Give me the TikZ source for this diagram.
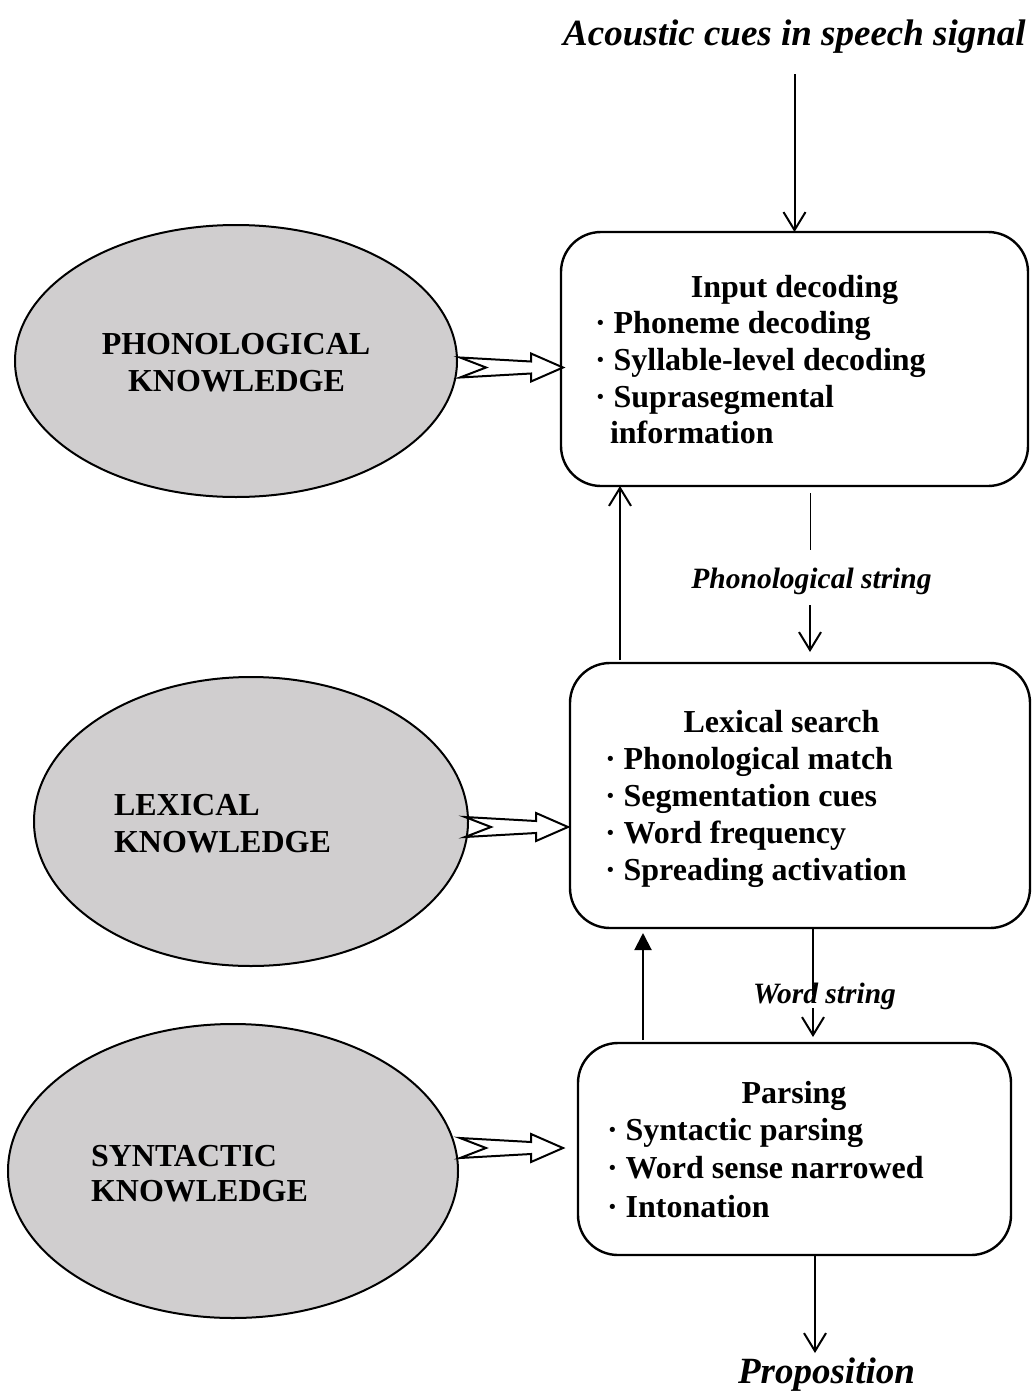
\documentclass[tikz,border=0pt]{standalone}
\usepackage{fontspec}
\setmainfont{Liberation Serif}
\usetikzlibrary{shapes.geometric,arrows.meta,calc}
\definecolor{knowfill}{RGB}{208,206,207}

% hollow "feeds into" arrow with a swallow tail; #1 is the tail point
\newcommand\fatarrow[1]{%
  \draw[feed] #1 ++(0,-10) -- ++(71,4) -- ++(0,-8) -- ++(32,14)
    -- ++(-32,14) -- ++(0,-8) -- ++(-71,4) -- ++(26,-10) -- cycle;}

\begin{document}
\begin{tikzpicture}[x=1pt,y=-1pt,
  every node/.style={inner sep=0pt,outer sep=0pt},
  know/.style={ellipse,draw,line width=2pt,fill=knowfill},
  stage/.style={rectangle,draw,line width=2.4pt,rounded corners=40pt},
  txt/.style={font=\fontsize{32}{37}\selectfont\bfseries},
  lbl/.style={font=\fontsize{29.5}{34}\selectfont\bfseries\itshape},
  big/.style={font=\fontsize{37}{44}\selectfont\bfseries\itshape},
  flow/.style={line width=2pt,-{Straight Barb[length=18pt,width=22pt]}},
  back/.style={line width=2pt,-{Triangle[length=17pt,width=17pt]}},
  thinline/.style={line width=1pt},
  feed/.style={line width=2pt,fill=white,line join=miter}]

\useasboundingbox (0,0) rectangle (1031,1392);

% knowledge sources
\node[know,minimum width=442pt,minimum height=272pt] (e1) at (236,361) {};
\node[know,minimum width=434pt,minimum height=289pt] (e2) at (251,821.5) {};
\node[know,minimum width=450pt,minimum height=294pt] (e3) at (233,1171) {};

\node[txt,anchor=base] (e1a) at (236,354) {PHONOLOGICAL};
\node[txt,anchor=base] (e1b) at (236.5,391) {KNOWLEDGE};
\node[txt,anchor=base west] (e2a) at (114,815) {LEXICAL};
\node[txt,anchor=base west] (e2b) at (114,852) {KNOWLEDGE};
\node[txt,anchor=base west] (e3a) at (91,1166) {SYNTACTIC};
\node[txt,anchor=base west] (e3b) at (91,1201) {KNOWLEDGE};

% processing stages
\node[stage,minimum width=467pt,minimum height=254pt] (b1) at (794.5,359) {};
\node[stage,minimum width=460pt,minimum height=265pt] (b2) at (800,795.5) {};
\node[stage,minimum width=433pt,minimum height=212pt] (b3) at (794.5,1149) {};

\node[txt,anchor=base] (b1t) at (794.5,297) {Input decoding};
\node[txt,anchor=base west] (b1i) at (595,333) {· Phoneme decoding};
\node[txt,anchor=base west] (b1j) at (595,370) {· Syllable-level decoding};
\node[txt,anchor=base west] (b1k) at (595,407) {· Suprasegmental};
\node[txt,anchor=base west] (b1l) at (610,443) {information};

\node[txt,anchor=base] (b2t) at (781.5,732) {Lexical search};
\node[txt,anchor=base west] (b2i) at (605,769) {· Phonological match};
\node[txt,anchor=base west] (b2j) at (605,806) {· Segmentation cues};
\node[txt,anchor=base west] (b2k) at (605,843) {· Word frequency};
\node[txt,anchor=base west] (b2l) at (605,880) {· Spreading activation};

\node[txt,anchor=base] (b3t) at (794,1103) {Parsing};
\node[txt,anchor=base west] (b3i) at (607,1140) {· Syntactic parsing};
\node[txt,anchor=base west] (b3j) at (607,1178) {· Word sense narrowed};
\node[txt,anchor=base west] (b3k) at (607,1217) {· Intonation};

% input and output
\node[big,anchor=base] (src) at (794.5,45) {Acoustic cues in speech signal};
\node[big,anchor=base] (prop) at (826.5,1383) {Proposition};

% stream labels
\node[lbl,anchor=base] (ps) at (811.5,588) {Phonological string};
\node[lbl,anchor=base] (ws) at (824.5,1003) {Word string};

% columns of the vertical connectors
\coordinate (xp) at (810,0);
\coordinate (xw) at (813,0);
\coordinate (xu) at (620,0);
\coordinate (xv) at (643,0);
\coordinate (xo) at (815,0);

% bottom-up flow
\draw[flow] ($(src.base)+(0,29)$) -- (b1.north);
\draw[thinline] ($(b1.south -| xp)+(0,7)$) -- ($(ps.base -| xp)+(0,-38)$);
\draw[flow] ($(ps.base -| xp)+(0,17)$) -- ($(b2.north -| xp)+(0,-11)$);
\draw[line width=2pt] (b2.south -| xw) -- ($(ws.base -| xw)+(0,-8)$);
\draw[flow] ($(ws.base -| xw)+(0,5)$) -- ($(b3.north -| xw)+(0,-6)$);
\draw[flow] (b3.south -| xo) -- ($(prop.base -| xo)+(0,-30)$);

% top-down feedback
\draw[flow] ($(b2.north -| xu)+(0,-3)$) -- (b1.south -| xu);
\draw[back] ($(b3.north -| xv)+(0,-3)$) -- ($(b2.south -| xv)+(0,5)$);

% knowledge feeding the stages
\fatarrow{($(e1.east)+(3,6.5)$)}
\fatarrow{($(e2.east)+(-3,5.5)$)}
\fatarrow{($(e3.east)+(2,-23)$)}

\end{tikzpicture}
\end{document}
